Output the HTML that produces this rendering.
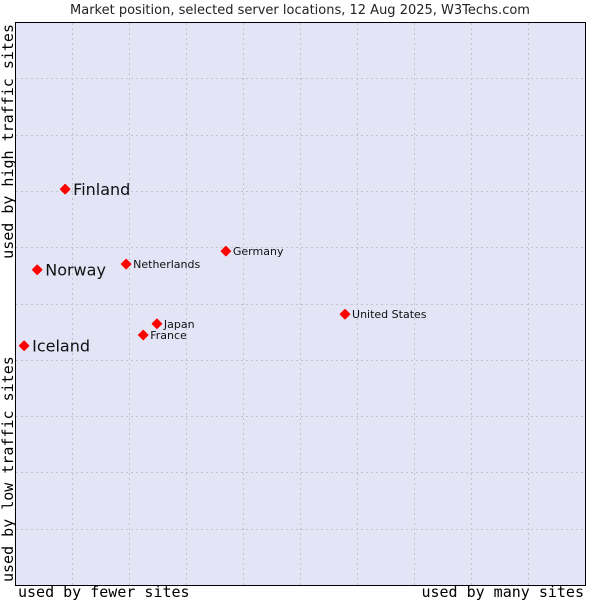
<!DOCTYPE html>
<html><head><meta charset="utf-8"><style>
body{margin:0;background:#fff;width:600px;height:600px;overflow:hidden}
svg{display:block}
text{font-family:"DejaVu Sans","Liberation Sans",sans-serif}
.mono{font-family:"DejaVu Sans Mono","Liberation Mono",monospace}
</style></head><body>
<svg id="chart" width="600" height="600" xmlns="http://www.w3.org/2000/svg">
<text x="300" y="14" text-anchor="middle" font-size="13" fill="#222">Market position, selected server locations, 12 Aug 2025, W3Techs.com</text>
<rect x="15.5" y="22.5" width="570" height="563" fill="#e4e4f7" stroke="#000" stroke-width="1"/>
<g id="grid"></g>
<g id="points"></g>
<text class="mono" x="18" y="597" font-size="15" fill="#000">used by fewer sites</text>
<text class="mono" x="584" y="597" text-anchor="end" font-size="15" fill="#000">used by many sites</text>
<text class="mono" transform="translate(13,24) rotate(-90)" text-anchor="end" font-size="15" fill="#000">used by high traffic sites</text>
<text class="mono" transform="translate(13,582) rotate(-90)" font-size="15" fill="#000">used by low traffic sites</text>
</svg>
<script>
const names=["Finland","Norway","Iceland","Netherlands","Germany","United States","Japan","France"];
const xVals=[8.8,3.9,1.6,19.5,37.0,57.9,24.9,22.5];
const yVals=[70.3,56.0,42.5,57.0,59.3,48.1,46.4,44.4];
const bigLabel=[true,true,true,false,false,false,false,false];
const L=15,T=22,W=570,H=563;
const sx=v=>L+v/100*W, sy=v=>T+H-v/100*H;
const ns="http://www.w3.org/2000/svg";
const grid=document.getElementById('grid');
for(let i=1;i<10;i++){
  const v=document.createElementNS(ns,'line');
  
  
  const x=Math.round(sx(i*10))+0.5;
  v.setAttribute('x1',x);v.setAttribute('x2',x);v.setAttribute('y1',T+1);v.setAttribute('y2',T+H);
  v.setAttribute('stroke','#c4c4c4');v.setAttribute('stroke-dasharray','2,3');
  grid.appendChild(v);
  const h=document.createElementNS(ns,'line');
  
  
  const y=Math.round(sy(i*10))+0.5;
  h.setAttribute('y1',y);h.setAttribute('y2',y);h.setAttribute('x1',L+1);h.setAttribute('x2',L+W);
  h.setAttribute('stroke','#c4c4c4');h.setAttribute('stroke-dasharray','2,3');
  grid.appendChild(h);
}
const pts=document.getElementById('points');
names.forEach((n,i)=>{
  const x=sx(xVals[i]),y=sy(yVals[i]);
  const c=document.createElementNS(ns,'path');
  
  
  c.setAttribute('d',`M${x-4.5},${y} L${x},${y-4.5} L${x+4.5},${y} L${x},${y+4.5} Z`);
  c.setAttribute('fill','#f00');
  c.setAttribute('stroke','#f00');c.setAttribute('stroke-linejoin','round');c.setAttribute('stroke-width','1.5');
  pts.appendChild(c);
  const t=document.createElementNS(ns,'text');
  
  
  const big=bigLabel[i];
  t.setAttribute('x',x+(big?8:7));t.setAttribute('y',y+(big?6:4));
  t.setAttribute('font-size',big?16:11);t.setAttribute('fill','#111');
  t.textContent=n;
  pts.appendChild(t);
});
</script>
</body></html>
